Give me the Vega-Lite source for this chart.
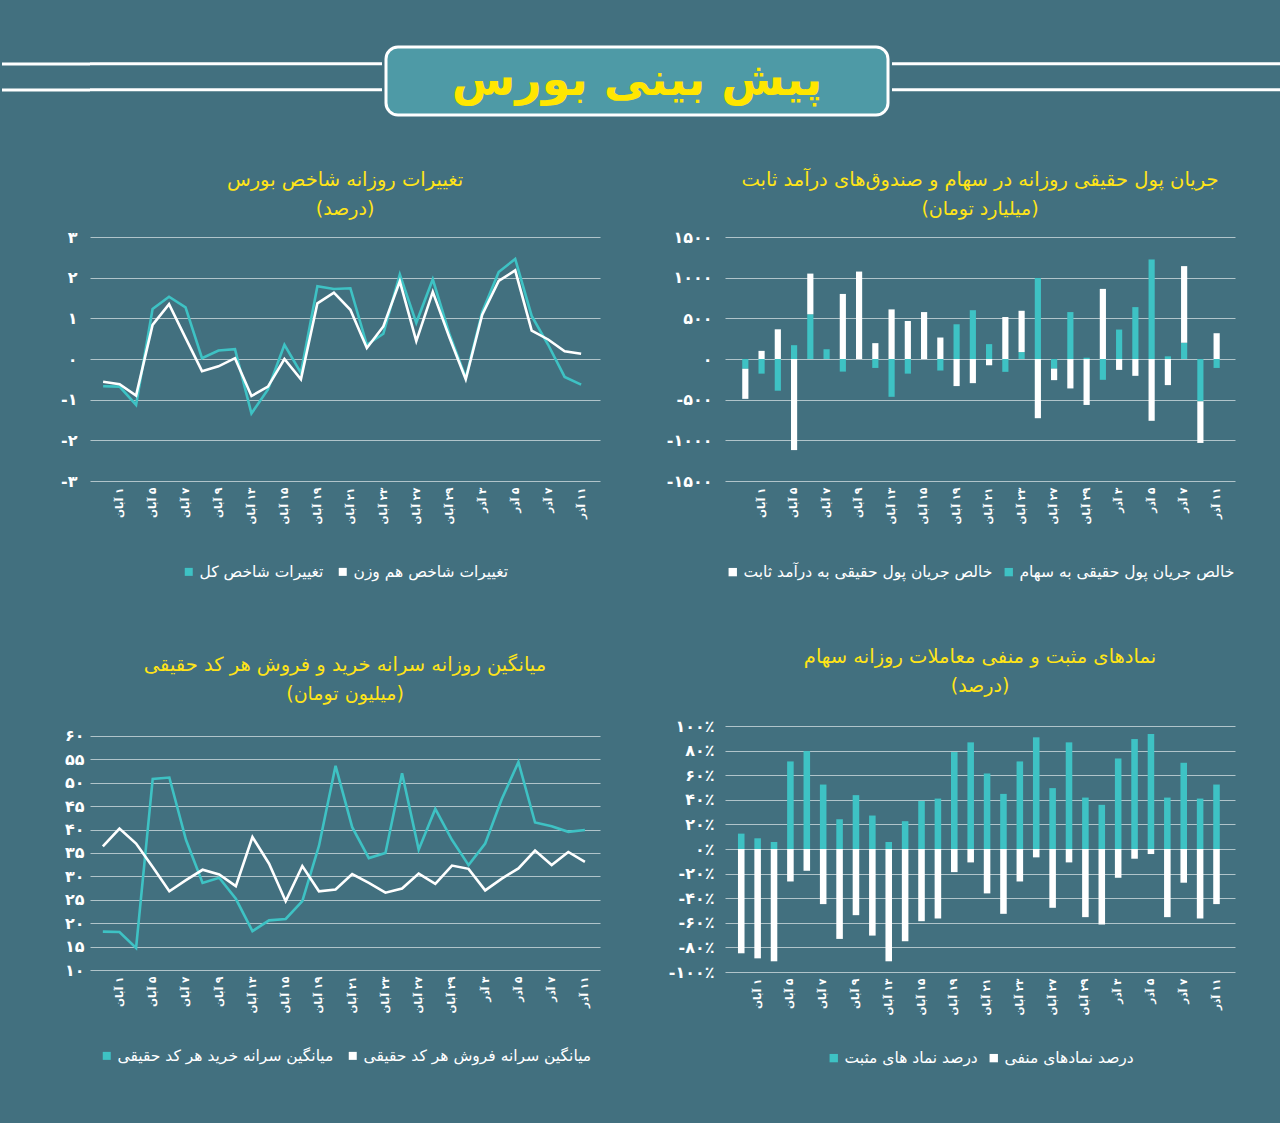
{
 "$schema": "https://vega.github.io/schema/vega-lite/v6.json",
 "padding": {"left": 0, "top": 45, "right": 0, "bottom": 67},
 "background": "#42707f",
 "spacing": 52,
 "resolve": {"scale": {"color": "independent"}, "legend": {"color": "independent"}},
 "datasets": {
  "idx": [
   {"d":"\u200f۳۰ مهر","تغییرات شاخص کل":-0.67,"تغییرات شاخص هم وزن":-0.56},
   {"d":"\u200f۱ آبان","تغییرات شاخص کل":-0.68,"تغییرات شاخص هم وزن":-0.62},
   {"d":"\u200f۴ آبان","تغییرات شاخص کل":-1.13,"تغییرات شاخص هم وزن":-0.90},
   {"d":"\u200f۵ آبان","تغییرات شاخص کل":1.23,"تغییرات شاخص هم وزن":0.84},
   {"d":"\u200f۶ آبان","تغییرات شاخص کل":1.53,"تغییرات شاخص هم وزن":1.35},
   {"d":"\u200f۷ آبان","تغییرات شاخص کل":1.27,"تغییرات شاخص هم وزن":0.52},
   {"d":"\u200f۸ آبان","تغییرات شاخص کل":0.02,"تغییرات شاخص هم وزن":-0.30},
   {"d":"\u200f۹ آبان","تغییرات شاخص کل":0.21,"تغییرات شاخص هم وزن":-0.18},
   {"d":"\u200f۱۲ آبان","تغییرات شاخص کل":0.24,"تغییرات شاخص هم وزن":0.02},
   {"d":"\u200f۱۳ آبان","تغییرات شاخص کل":-1.34,"تغییرات شاخص هم وزن":-0.91},
   {"d":"\u200f۱۴ آبان","تغییرات شاخص کل":-0.75,"تغییرات شاخص هم وزن":-0.68},
   {"d":"\u200f۱۵ آبان","تغییرات شاخص کل":0.35,"تغییرات شاخص هم وزن":0.0},
   {"d":"\u200f۱۸ آبان","تغییرات شاخص کل":-0.34,"تغییرات شاخص هم وزن":-0.50},
   {"d":"\u200f۱۹ آبان","تغییرات شاخص کل":1.79,"تغییرات شاخص هم وزن":1.37},
   {"d":"\u200f۲۰ آبان","تغییرات شاخص کل":1.72,"تغییرات شاخص هم وزن":1.63},
   {"d":"\u200f۲۱ آبان","تغییرات شاخص کل":1.74,"تغییرات شاخص هم وزن":1.21},
   {"d":"\u200f۲۲ آبان","تغییرات شاخص کل":0.35,"تغییرات شاخص هم وزن":0.27},
   {"d":"\u200f۲۳ آبان","تغییرات شاخص کل":0.62,"تغییرات شاخص هم وزن":0.80},
   {"d":"\u200f۲۶ آبان","تغییرات شاخص کل":2.08,"تغییرات شاخص هم وزن":1.91},
   {"d":"\u200f۲۷ آبان","تغییرات شاخص کل":0.89,"تغییرات شاخص هم وزن":0.44},
   {"d":"\u200f۲۸ آبان","تغییرات شاخص کل":1.96,"تغییرات شاخص هم وزن":1.65},
   {"d":"\u200f۲۹ آبان","تغییرات شاخص کل":0.63,"تغییرات شاخص هم وزن":0.54},
   {"d":"\u200f۳۰ آبان","تغییرات شاخص کل":-0.46,"تغییرات شاخص هم وزن":-0.50},
   {"d":"\u200f۳ آذر","تغییرات شاخص کل":1.16,"تغییرات شاخص هم وزن":1.09},
   {"d":"\u200f۴ آذر","تغییرات شاخص کل":2.14,"تغییرات شاخص هم وزن":1.92},
   {"d":"\u200f۵ آذر","تغییرات شاخص کل":2.46,"تغییرات شاخص هم وزن":2.18},
   {"d":"\u200f۶ آذر","تغییرات شاخص کل":1.06,"تغییرات شاخص هم وزن":0.70},
   {"d":"\u200f۷ آذر","تغییرات شاخص کل":0.35,"تغییرات شاخص هم وزن":0.48},
   {"d":"\u200f۱۰ آذر","تغییرات شاخص کل":-0.44,"تغییرات شاخص هم وزن":0.19},
   {"d":"\u200f۱۱ آذر","تغییرات شاخص کل":-0.63,"تغییرات شاخص هم وزن":0.13}
  ],
  "flow": [
   {"d":"\u200f۳۰ مهر","خالص جریان پول حقیقی به سهام":-120,"خالص جریان پول حقیقی به درآمد ثابت":-370},
   {"d":"\u200f۱ آبان","خالص جریان پول حقیقی به سهام":-180,"خالص جریان پول حقیقی به درآمد ثابت":100},
   {"d":"\u200f۴ آبان","خالص جریان پول حقیقی به سهام":-390,"خالص جریان پول حقیقی به درآمد ثابت":365},
   {"d":"\u200f۵ آبان","خالص جریان پول حقیقی به سهام":170,"خالص جریان پول حقیقی به درآمد ثابت":-1120},
   {"d":"\u200f۶ آبان","خالص جریان پول حقیقی به سهام":550,"خالص جریان پول حقیقی به درآمد ثابت":500},
   {"d":"\u200f۷ آبان","خالص جریان پول حقیقی به سهام":120,"خالص جریان پول حقیقی به درآمد ثابت":0},
   {"d":"\u200f۸ آبان","خالص جریان پول حقیقی به سهام":-155,"خالص جریان پول حقیقی به درآمد ثابت":800},
   {"d":"\u200f۹ آبان","خالص جریان پول حقیقی به سهام":0,"خالص جریان پول حقیقی به درآمد ثابت":1075},
   {"d":"\u200f۱۲ آبان","خالص جریان پول حقیقی به سهام":-110,"خالص جریان پول حقیقی به درآمد ثابت":195},
   {"d":"\u200f۱۳ آبان","خالص جریان پول حقیقی به سهام":-465,"خالص جریان پول حقیقی به درآمد ثابت":610},
   {"d":"\u200f۱۴ آبان","خالص جریان پول حقیقی به سهام":-180,"خالص جریان پول حقیقی به درآمد ثابت":467},
   {"d":"\u200f۱۵ آبان","خالص جریان پول حقیقی به سهام":0,"خالص جریان پول حقیقی به درآمد ثابت":577},
   {"d":"\u200f۱۸ آبان","خالص جریان پول حقیقی به سهام":-142,"خالص جریان پول حقیقی به درآمد ثابت":264},
   {"d":"\u200f۱۹ آبان","خالص جریان پول حقیقی به سهام":427,"خالص جریان پول حقیقی به درآمد ثابت":-333},
   {"d":"\u200f۲۰ آبان","خالص جریان پول حقیقی به سهام":600,"خالص جریان پول حقیقی به درآمد ثابت":-297},
   {"d":"\u200f۲۱ آبان","خالص جریان پول حقیقی به سهام":183,"خالص جریان پول حقیقی به درآمد ثابت":-77},
   {"d":"\u200f۲۲ آبان","خالص جریان پول حقیقی به سهام":-158,"خالص جریان پول حقیقی به درآمد ثابت":516},
   {"d":"\u200f۲۳ آبان","خالص جریان پول حقیقی به سهام":85,"خالص جریان پول حقیقی به درآمد ثابت":508},
   {"d":"\u200f۲۶ آبان","خالص جریان پول حقیقی به سهام":996,"خالص جریان پول حقیقی به درآمد ثابت":-728},
   {"d":"\u200f۲۷ آبان","خالص جریان پول حقیقی به سهام":-118,"خالص جریان پول حقیقی به درآمد ثابت":-142},
   {"d":"\u200f۲۸ آبان","خالص جریان پول حقیقی به سهام":577,"خالص جریان پول حقیقی به درآمد ثابت":-362},
   {"d":"\u200f۲۹ آبان","خالص جریان پول حقیقی به سهام":16,"خالص جریان پول حقیقی به درآمد ثابت":-565},
   {"d":"\u200f۳۰ آبان","خالص جریان پول حقیقی به سهام":-256,"خالص جریان پول حقیقی به درآمد ثابت":862},
   {"d":"\u200f۳ آذر","خالص جریان پول حقیقی به سهام":362,"خالص جریان پول حقیقی به درآمد ثابت":-134},
   {"d":"\u200f۴ آذر","خالص جریان پول حقیقی به سهام":638,"خالص جریان پول حقیقی به درآمد ثابت":-207},
   {"d":"\u200f۵ آذر","خالص جریان پول حقیقی به سهام":1224,"خالص جریان پول حقیقی به درآمد ثابت":-760},
   {"d":"\u200f۶ آذر","خالص جریان پول حقیقی به سهام":33,"خالص جریان پول حقیقی به درآمد ثابت":-321},
   {"d":"\u200f۷ آذر","خالص جریان پول حقیقی به سهام":200,"خالص جریان پول حقیقی به درآمد ثابت":942},
   {"d":"\u200f۱۰ آذر","خالص جریان پول حقیقی به سهام":-520,"خالص جریان پول حقیقی به درآمد ثابت":-512},
   {"d":"\u200f۱۱ آذر","خالص جریان پول حقیقی به سهام":-110,"خالص جریان پول حقیقی به درآمد ثابت":317}
  ],
  "avg": [
   {"d":"\u200f۳۰ مهر","میانگین سرانه خرید هر کد حقیقی":18.2,"میانگین سرانه فروش هر کد حقیقی":36.4},
   {"d":"\u200f۱ آبان","میانگین سرانه خرید هر کد حقیقی":18.1,"میانگین سرانه فروش هر کد حقیقی":40.2},
   {"d":"\u200f۴ آبان","میانگین سرانه خرید هر کد حقیقی":14.7,"میانگین سرانه فروش هر کد حقیقی":37.0},
   {"d":"\u200f۵ آبان","میانگین سرانه خرید هر کد حقیقی":50.8,"میانگین سرانه فروش هر کد حقیقی":32.0},
   {"d":"\u200f۶ آبان","میانگین سرانه خرید هر کد حقیقی":51.1,"میانگین سرانه فروش هر کد حقیقی":26.8},
   {"d":"\u200f۷ آبان","میانگین سرانه خرید هر کد حقیقی":37.8,"میانگین سرانه فروش هر کد حقیقی":29.2},
   {"d":"\u200f۸ آبان","میانگین سرانه خرید هر کد حقیقی":28.6,"میانگین سرانه فروش هر کد حقیقی":31.4},
   {"d":"\u200f۹ آبان","میانگین سرانه خرید هر کد حقیقی":29.7,"میانگین سرانه فروش هر کد حقیقی":30.4},
   {"d":"\u200f۱۲ آبان","میانگین سرانه خرید هر کد حقیقی":25.2,"میانگین سرانه فروش هر کد حقیقی":27.9},
   {"d":"\u200f۱۳ آبان","میانگین سرانه خرید هر کد حقیقی":18.3,"میانگین سرانه فروش هر کد حقیقی":38.4},
   {"d":"\u200f۱۴ آبان","میانگین سرانه خرید هر کد حقیقی":20.6,"میانگین سرانه فروش هر کد حقیقی":32.7},
   {"d":"\u200f۱۵ آبان","میانگین سرانه خرید هر کد حقیقی":20.9,"میانگین سرانه فروش هر کد حقیقی":24.7},
   {"d":"\u200f۱۸ آبان","میانگین سرانه خرید هر کد حقیقی":24.7,"میانگین سرانه فروش هر کد حقیقی":32.2},
   {"d":"\u200f۱۹ آبان","میانگین سرانه خرید هر کد حقیقی":36.5,"میانگین سرانه فروش هر کد حقیقی":26.8},
   {"d":"\u200f۲۰ آبان","میانگین سرانه خرید هر کد حقیقی":53.6,"میانگین سرانه فروش هر کد حقیقی":27.2},
   {"d":"\u200f۲۱ آبان","میانگین سرانه خرید هر کد حقیقی":40.5,"میانگین سرانه فروش هر کد حقیقی":30.5},
   {"d":"\u200f۲۲ آبان","میانگین سرانه خرید هر کد حقیقی":33.9,"میانگین سرانه فروش هر کد حقیقی":28.6},
   {"d":"\u200f۲۳ آبان","میانگین سرانه خرید هر کد حقیقی":35.0,"میانگین سرانه فروش هر کد حقیقی":26.5},
   {"d":"\u200f۲۶ آبان","میانگین سرانه خرید هر کد حقیقی":52.0,"میانگین سرانه فروش هر کد حقیقی":27.4},
   {"d":"\u200f۲۷ آبان","میانگین سرانه خرید هر کد حقیقی":35.7,"میانگین سرانه فروش هر کد حقیقی":30.6},
   {"d":"\u200f۲۸ آبان","میانگین سرانه خرید هر کد حقیقی":44.4,"میانگین سرانه فروش هر کد حقیقی":28.4},
   {"d":"\u200f۲۹ آبان","میانگین سرانه خرید هر کد حقیقی":37.8,"میانگین سرانه فروش هر کد حقیقی":32.3},
   {"d":"\u200f۳۰ آبان","میانگین سرانه خرید هر کد حقیقی":32.4,"میانگین سرانه فروش هر کد حقیقی":31.6},
   {"d":"\u200f۳ آذر","میانگین سرانه خرید هر کد حقیقی":37.0,"میانگین سرانه فروش هر کد حقیقی":27.0},
   {"d":"\u200f۴ آذر","میانگین سرانه خرید هر کد حقیقی":46.5,"میانگین سرانه فروش هر کد حقیقی":29.5},
   {"d":"\u200f۵ آذر","میانگین سرانه خرید هر کد حقیقی":54.4,"میانگین سرانه فروش هر کد حقیقی":31.7},
   {"d":"\u200f۶ آذر","میانگین سرانه خرید هر کد حقیقی":41.5,"میانگین سرانه فروش هر کد حقیقی":35.5},
   {"d":"\u200f۷ آذر","میانگین سرانه خرید هر کد حقیقی":40.7,"میانگین سرانه فروش هر کد حقیقی":32.4},
   {"d":"\u200f۱۰ آذر","میانگین سرانه خرید هر کد حقیقی":39.5,"میانگین سرانه فروش هر کد حقیقی":35.2},
   {"d":"\u200f۱۱ آذر","میانگین سرانه خرید هر کد حقیقی":39.9,"میانگین سرانه فروش هر کد حقیقی":33.1}
  ],
  "sym": [
   {"d":"\u200f۳۰ مهر","درصد نماد های مثبت":12.5,"درصد نمادهای منفی":-84.8},
   {"d":"\u200f۱ آبان","درصد نماد های مثبت":8.7,"درصد نمادهای منفی":-88.9},
   {"d":"\u200f۴ آبان","درصد نماد های مثبت":5.7,"درصد نمادهای منفی":-91.3},
   {"d":"\u200f۵ آبان","درصد نماد های مثبت":71.2,"درصد نمادهای منفی":-26.4},
   {"d":"\u200f۶ آبان","درصد نماد های مثبت":79.6,"درصد نمادهای منفی":-17.7},
   {"d":"\u200f۷ آبان","درصد نماد های مثبت":52.4,"درصد نمادهای منفی":-44.8},
   {"d":"\u200f۸ آبان","درصد نماد های مثبت":24.2,"درصد نمادهای منفی":-73.1},
   {"d":"\u200f۹ آبان","درصد نماد های مثبت":43.8,"درصد نمادهای منفی":-53.8},
   {"d":"\u200f۱۲ آبان","درصد نماد های مثبت":27.2,"درصد نمادهای منفی":-70.4},
   {"d":"\u200f۱۳ آبان","درصد نماد های مثبت":5.7,"درصد نمادهای منفی":-91.3},
   {"d":"\u200f۱۴ آبان","درصد نماد های مثبت":22.6,"درصد نمادهای منفی":-75.0},
   {"d":"\u200f۱۵ آبان","درصد نماد های مثبت":39.1,"درصد نمادهای منفی":-58.7},
   {"d":"\u200f۱۸ آبان","درصد نماد های مثبت":41.0,"درصد نمادهای منفی":-56.5},
   {"d":"\u200f۱۹ آبان","درصد نماد های مثبت":78.8,"درصد نمادهای منفی":-18.8},
   {"d":"\u200f۲۰ آبان","درصد نماد های مثبت":86.7,"درصد نمادهای منفی":-10.9},
   {"d":"\u200f۲۱ آبان","درصد نماد های مثبت":61.4,"درصد نمادهای منفی":-36.1},
   {"d":"\u200f۲۲ آبان","درصد نماد های مثبت":44.8,"درصد نمادهای منفی":-52.7},
   {"d":"\u200f۲۳ آبان","درصد نماد های مثبت":71.2,"درصد نمادهای منفی":-26.4},
   {"d":"\u200f۲۶ آبان","درصد نماد های مثبت":90.8,"درصد نمادهای منفی":-6.8},
   {"d":"\u200f۲۷ آبان","درصد نماد های مثبت":49.5,"درصد نمادهای منفی":-47.8},
   {"d":"\u200f۲۸ آبان","درصد نماد های مثبت":86.7,"درصد نمادهای منفی":-10.9},
   {"d":"\u200f۲۹ آبان","درصد نماد های مثبت":41.8,"درصد نمادهای منفی":-55.4},
   {"d":"\u200f۳۰ آبان","درصد نماد های مثبت":35.9,"درصد نمادهای منفی":-61.4},
   {"d":"\u200f۳ آذر","درصد نماد های مثبت":73.6,"درصد نمادهای منفی":-23.4},
   {"d":"\u200f۴ آذر","درصد نماد های مثبت":89.4,"درصد نمادهای منفی":-7.9},
   {"d":"\u200f۵ آذر","درصد نماد های مثبت":93.5,"درصد نمادهای منفی":-4.1},
   {"d":"\u200f۶ آذر","درصد نماد های مثبت":41.8,"درصد نمادهای منفی":-55.4},
   {"d":"\u200f۷ آذر","درصد نماد های مثبت":70.1,"درصد نمادهای منفی":-27.4},
   {"d":"\u200f۱۰ آذر","درصد نماد های مثبت":41.0,"درصد نمادهای منفی":-56.5},
   {"d":"\u200f۱۱ آذر","درصد نماد های مثبت":52.4,"درصد نمادهای منفی":-44.8}
  ]
 },
 "vconcat": [
  {
   "spacing": 0,
   "hconcat": [
    {"width": 292, "height": 68, "data": {"values": [{"l": "a"}, {"l": "b"}]},
     "mark": {"type": "rule", "color": "white", "strokeWidth": 3},
     "encoding": {"y": {"field": "l", "type": "nominal", "scale": {"type": "point", "padding": 0.81, "align": 0.4},
       "axis": {"title": null, "labels": false, "ticks": true, "tickSize": 88, "tickWidth": 3, "tickColor": "white", "tickCap": "butt", "translate": 0, "domain": false, "grid": false, "minExtent": 88, "maxExtent": 88}}}},
    {"width": 502, "height": 68,
     "view": {"fill": "#4e9aa6", "stroke": "white", "strokeWidth": 3, "cornerRadius": 12},
     "data": {"values": [{"t": "پیش بینی بورس"}]},
     "mark": {"type": "text", "fontSize": 46, "fontWeight": "bold", "color": "#ffe600", "font": "DejaVu Sans", "align": "center", "baseline": "middle"},
     "encoding": {"text": {"field": "t"}}},
    {"width": 398, "height": 68, "data": {"values": [{"l": "a"}, {"l": "b"}]},
     "mark": {"type": "rule", "color": "white", "strokeWidth": 3},
     "encoding": {"y": {"field": "l", "type": "nominal", "scale": {"type": "point", "padding": 0.81, "align": 0.4}, "axis": null}}}
   ]
  },
  {
   "spacing": 64,
   "resolve": {"scale": {"color": "independent"}, "legend": {"color": "independent"}},
   "vconcat": [
    {
     "spacing": 65,
     "resolve": {"scale": {"color": "independent"}, "legend": {"color": "independent"}},
     "hconcat": [
      {
       "width": 510, "height": 244,
       "title": {"text": "تغییرات روزانه شاخص بورس", "subtitle": "(درصد)", "offset": 9},
       "data": {"name": "idx"},
       "transform": [{"fold": ["تغییرات شاخص کل", "تغییرات شاخص هم وزن"], "as": ["s", "v"]}],
       "mark": {"type": "line", "strokeWidth": 2.6},
       "encoding": {
        "x": {"field": "d", "type": "nominal", "sort": null, "scale": {"type": "point", "padding": 0.97, "align": 0.41},
              "axis": {"title": null, "values": ["\u200f۱ آبان","\u200f۵ آبان","\u200f۷ آبان","\u200f۹ آبان","\u200f۱۳ آبان","\u200f۱۵ آبان","\u200f۱۹ آبان","\u200f۲۱ آبان","\u200f۲۳ آبان","\u200f۲۷ آبان","\u200f۲۹ آبان","\u200f۳ آذر","\u200f۵ آذر","\u200f۷ آذر","\u200f۱۱ آذر"]}},
        "y": {"field": "v", "type": "quantitative", "scale": {"domain": [-3, 3]},
              "axis": {"title": null, "values": [-3, -2, -1, 0, 1, 2, 3], "format": "d", "labelPadding": 13, "minExtent": 88, "maxExtent": 88,
                       "labelExpr": "replace(replace(replace(replace(replace(replace(replace(replace(replace(replace(replace(datum.label,'−','-'),regexp('0','g'),'۰'),regexp('1','g'),'۱'),regexp('2','g'),'۲'),regexp('3','g'),'۳'),regexp('4','g'),'۴'),regexp('5','g'),'۵'),regexp('6','g'),'۶'),regexp('7','g'),'۷'),regexp('8','g'),'۸'),regexp('9','g'),'۹')"}},
        "color": {"field": "s", "type": "nominal", "scale": {"domain": ["تغییرات شاخص کل", "تغییرات شاخص هم وزن"], "range": ["#3ec2c4", "#ffffff"]},
                  "legend": {"title": null, "orient": "bottom", "direction": "horizontal", "offset": 40, "symbolType": "square", "symbolSize": 16, "symbolStrokeWidth": 4}}
       }
      },
      {
       "width": 510, "height": 244,
       "title": {"text": "جریان پول حقیقی روزانه در سهام و صندوق‌های درآمد ثابت", "subtitle": "(میلیارد تومان)", "offset": 9},
       "data": {"name": "flow"},
       "transform": [{"fold": ["خالص جریان پول حقیقی به سهام", "خالص جریان پول حقیقی به درآمد ثابت"], "as": ["s", "v"]}],
       "mark": {"type": "bar"},
       "encoding": {
        "x": {"field": "d", "type": "nominal", "sort": null, "scale": {"paddingInner": 0.62, "paddingOuter": 1.0, "align": 0.53},
              "axis": {"title": null, "values": ["\u200f۱ آبان","\u200f۵ آبان","\u200f۷ آبان","\u200f۹ آبان","\u200f۱۳ آبان","\u200f۱۵ آبان","\u200f۱۹ آبان","\u200f۲۱ آبان","\u200f۲۳ آبان","\u200f۲۷ آبان","\u200f۲۹ آبان","\u200f۳ آذر","\u200f۵ آذر","\u200f۷ آذر","\u200f۱۱ آذر"]}},
        "y": {"field": "v", "type": "quantitative", "stack": "zero", "scale": {"domain": [-1500, 1500]},
              "axis": {"title": null, "values": [-1500, -1000, -500, 0, 500, 1000, 1500], "format": "d", "labelPadding": 13, "minExtent": 60, "maxExtent": 60,
                       "labelExpr": "replace(replace(replace(replace(replace(replace(replace(replace(replace(replace(replace(datum.label,'−','-'),regexp('0','g'),'۰'),regexp('1','g'),'۱'),regexp('2','g'),'۲'),regexp('3','g'),'۳'),regexp('4','g'),'۴'),regexp('5','g'),'۵'),regexp('6','g'),'۶'),regexp('7','g'),'۷'),regexp('8','g'),'۸'),regexp('9','g'),'۹')"}},
        "color": {"field": "s", "type": "nominal", "scale": {"domain": ["خالص جریان پول حقیقی به درآمد ثابت", "خالص جریان پول حقیقی به سهام"], "range": ["#ffffff", "#3ec2c4"]},
                  "legend": {"title": null, "orient": "bottom", "direction": "horizontal", "offset": 40, "symbolType": "square", "symbolSize": 70, "symbolStrokeWidth": 0}},
        "order": {"field": "s", "sort": "descending"}
       }
      }
     ]
    },
    {
     "spacing": 65,
     "resolve": {"scale": {"color": "independent"}, "legend": {"color": "independent"}},
     "hconcat": [
      {
       "width": 510, "height": 244,
       "title": {"text": "میانگین روزانه سرانه خرید و فروش هر کد حقیقی", "subtitle": "(میلیون تومان)", "offset": 21},
       "data": {"name": "avg"},
       "transform": [{"fold": ["میانگین سرانه خرید هر کد حقیقی", "میانگین سرانه فروش هر کد حقیقی"], "as": ["s", "v"]}],
       "mark": {"type": "line", "strokeWidth": 2.6},
       "encoding": {
        "x": {"field": "d", "type": "nominal", "sort": null, "scale": {"type": "point", "padding": 0.84, "align": 0.46},
              "axis": {"title": null, "values": ["\u200f۱ آبان","\u200f۵ آبان","\u200f۷ آبان","\u200f۹ آبان","\u200f۱۳ آبان","\u200f۱۵ آبان","\u200f۱۹ آبان","\u200f۲۱ آبان","\u200f۲۳ آبان","\u200f۲۷ آبان","\u200f۲۹ آبان","\u200f۳ آذر","\u200f۵ آذر","\u200f۷ آذر","\u200f۱۱ آذر"]}},
        "y": {"field": "v", "type": "quantitative", "scale": {"domain": [10, 62.1], "nice": false},
              "axis": {"title": null, "values": [10, 15, 20, 25, 30, 35, 40, 45, 50, 55, 60], "format": "d", "labelPadding": 6, "minExtent": 88, "maxExtent": 88,
                       "labelExpr": "replace(replace(replace(replace(replace(replace(replace(replace(replace(replace(replace(datum.label,'−','-'),regexp('0','g'),'۰'),regexp('1','g'),'۱'),regexp('2','g'),'۲'),regexp('3','g'),'۳'),regexp('4','g'),'۴'),regexp('5','g'),'۵'),regexp('6','g'),'۶'),regexp('7','g'),'۷'),regexp('8','g'),'۸'),regexp('9','g'),'۹')"}},
        "color": {"field": "s", "type": "nominal", "scale": {"domain": ["میانگین سرانه خرید هر کد حقیقی", "میانگین سرانه فروش هر کد حقیقی"], "range": ["#3ec2c4", "#ffffff"]},
                  "legend": {"title": null, "orient": "bottom", "direction": "horizontal", "offset": 35, "symbolType": "square", "symbolSize": 16, "symbolStrokeWidth": 4}}
       }
      },
      {
       "width": 510, "height": 246,
       "title": {"text": "نمادهای مثبت و منفی معاملات روزانه سهام", "subtitle": "(درصد)", "offset": 21},
       "data": {"name": "sym"},
       "transform": [{"fold": ["درصد نماد های مثبت", "درصد نمادهای منفی"], "as": ["s", "v"]}],
       "mark": {"type": "bar"},
       "encoding": {
        "x": {"field": "d", "type": "nominal", "sort": null, "scale": {"paddingInner": 0.6, "paddingOuter": 0.86, "align": 0.46},
              "axis": {"title": null, "values": ["\u200f۱ آبان","\u200f۵ آبان","\u200f۷ آبان","\u200f۹ آبان","\u200f۱۳ آبان","\u200f۱۵ آبان","\u200f۱۹ آبان","\u200f۲۱ آبان","\u200f۲۳ آبان","\u200f۲۷ آبان","\u200f۲۹ آبان","\u200f۳ آذر","\u200f۵ آذر","\u200f۷ آذر","\u200f۱۱ آذر"]}},
        "y": {"field": "v", "type": "quantitative", "stack": "zero", "scale": {"domain": [-100, 100]},
              "axis": {"title": null, "values": [-100, -80, -60, -40, -20, 0, 20, 40, 60, 80, 100], "format": "d", "labelPadding": 11, "minExtent": 60, "maxExtent": 60,
                       "labelExpr": "replace(replace(replace(replace(replace(replace(replace(replace(replace(replace(replace(datum.label,'−','-'),regexp('0','g'),'۰'),regexp('1','g'),'۱'),regexp('2','g'),'۲'),regexp('3','g'),'۳'),regexp('4','g'),'۴'),regexp('5','g'),'۵'),regexp('6','g'),'۶'),regexp('7','g'),'۷'),regexp('8','g'),'۸'),regexp('9','g'),'۹') + '٪'"}},
        "color": {"field": "s", "type": "nominal", "scale": {"domain": ["درصد نماد های مثبت", "درصد نمادهای منفی"], "range": ["#3ec2c4", "#ffffff"]},
                  "legend": {"title": null, "orient": "bottom", "direction": "horizontal", "offset": 35, "symbolType": "square", "symbolSize": 70, "symbolStrokeWidth": 0}}
       }
      }
     ]
    }
   ]
  }
 ],
 "config": {
  "font": "DejaVu Sans",
  "view": {"stroke": null},
  "axis": {"labelColor": "white", "labelFont": "DejaVu Sans", "labelFontWeight": "bold", "domain": false, "ticks": false, "gridColor": "#d5e0e3", "gridOpacity": 0.75, "gridWidth": 1},
  "axisX": {"labelAngle": -90, "labelFontSize": 10.5, "grid": false, "labelPadding": 6},
  "axisY": {"labelFontSize": 16},
  "legend": {"labelColor": "white", "labelFontSize": 15.5, "labelLimit": 600, "columnPadding": 8, "labelOffset": 3, "layout": {"bottom": {"anchor": "middle"}}},
  "title": {"color": "#ffe418", "fontSize": 19.5, "fontWeight": "normal", "subtitleColor": "#ffe418", "subtitleFontSize": 19, "subtitlePadding": 10, "anchor": "middle", "font": "DejaVu Sans", "subtitleFont": "DejaVu Sans"}
 }
}
